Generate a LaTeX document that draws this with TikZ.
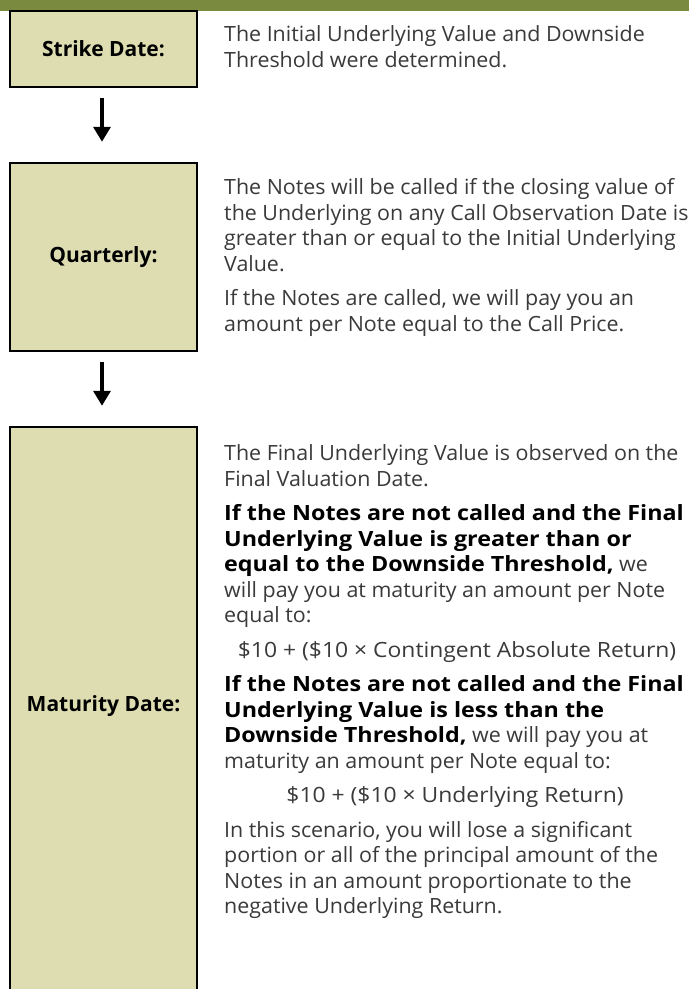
\documentclass[tikz,border=0pt]{standalone}
\usepackage{fontspec}
\setmainfont{Open Sans}
\newfontfamily\parafont[FakeStretch=1.02]{Open Sans}
\newfontfamily\formulafont[FakeStretch=1.09]{Open Sans}
\newfontfamily\paraboldfont[FakeStretch=1.11]{Open Sans}
\usetikzlibrary{arrows.meta}
\definecolor{barGreen}{HTML}{7A8B3F}
\definecolor{boxFill}{HTML}{DDDDB1}
\definecolor{txtGray}{HTML}{3A3A3A}
\newcommand\bk[1]{\textcolor{black}{\paraboldfont\bfseries #1}}
\tikzset{
  stagebox/.style={draw=black, line width=2.5pt, fill=boxFill, minimum width=187pt, inner sep=0pt, font=\fontsize{21}{25.5}\selectfont\bfseries, text=black},
  stagelabel/.style={inner sep=0pt, font=\fontsize{21}{25.5}\selectfont\bfseries, text=black},
  para/.style={anchor=base west, align=left, inner sep=0pt, font=\parafont\fontsize{21}{25.5}\selectfont, text=txtGray},
  formula/.style={anchor=base, inner sep=0pt, font=\formulafont\fontsize{21}{25.5}\selectfont, text=txtGray},
  flowarrow/.style={line width=3.5pt, -{Triangle[width=17pt,length=15pt]}}
}
\begin{document}
\begin{tikzpicture}[x=1pt,y=-1pt]
\useasboundingbox (0,0) rectangle (689,989);
\clip (0,0) rectangle (689,989);
\fill[white] (0,0) rectangle (689,989);
\fill[barGreen] (0,0) rectangle (689,11);

\node[stagebox, minimum height=76pt] (s1) at (103.5,49) {Strike Date:};
\node[stagebox, minimum height=188pt] (s2) at (103.5,257) {Quarterly:};
\node[stagebox, minimum height=583pt] (s3) at (103.5,718.5) {};
\node[stagelabel] (l3) at (103.5,706) {Maturity Date:};

\draw[flowarrow] ([xshift=-1.5pt,yshift=-10pt]s1.south) -- ([xshift=-1.5pt,yshift=20pt]s2.north);
\draw[flowarrow] ([xshift=-1.5pt,yshift=-10pt]s2.south) -- ([xshift=-1.5pt,yshift=20pt]s3.north);

% anchor base = baseline of the last line
\node[para] (p1) at (224,67) {The Initial Underlying Value and Downside\\Threshold were determined.};

\node[para] (p2) at (224,271) {The Notes will be called if the closing value of\\the Underlying on any Call Observation Date is\\greater than or equal to the Initial Underlying\\Value.};
\node[para] (p3) at (224,331) {If the Notes are called, we will pay you an\\amount per Note equal to the Call Price.};

\node[para] (p4) at (224,486) {The Final Underlying Value is observed on the\\Final Valuation Date.};
\node[para] (p5) at (224,622.5) {\bk{If the Notes are not called and the Final}\\\bk{Underlying Value is greater than or}\\\bk{equal to the Downside Threshold,} we\\will pay you at maturity an amount per Note\\equal to:};
\node[formula] (f1) at (457,657) {\$10 + (\$10 × Contingent Absolute Return)};
\node[para] (p6) at (224,768) {\bk{If the Notes are not called and the Final}\\\bk{Underlying Value is less than the}\\\bk{Downside Threshold,} we will pay you at\\maturity an amount per Note equal to:};
\node[formula] (f2) at (455,802.5) {\$10 + (\$10 × Underlying Return)};
\node[para] (p7) at (224,913.5) {In this scenario, you will lose a significant\\portion or all of the principal amount of the\\Notes in an amount proportionate to the\\negative Underlying Return.};
\end{tikzpicture}
\end{document}
